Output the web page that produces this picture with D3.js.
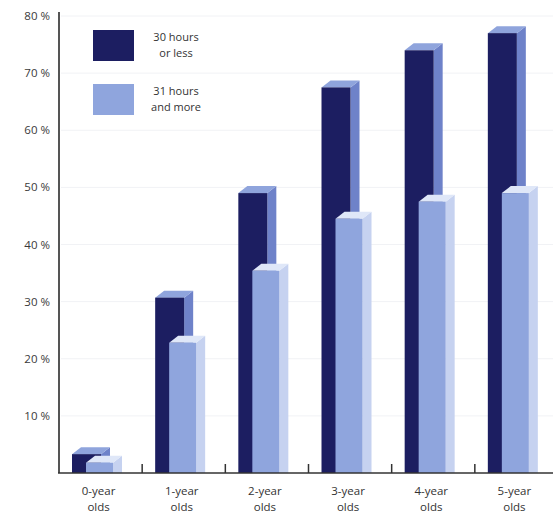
<!DOCTYPE html>
<html>
<head>
<meta charset="utf-8">
<script src="https://cdn.jsdelivr.net/npm/d3@7"></script>
<style>
  body { margin: 0; background: #fff; }
  text { font-family: "Open Sans", "Liberation Sans", sans-serif; }
</style>
</head>
<body>
<svg width="553" height="514"></svg>
<script>
var categories = ["0-year olds", "1-year olds", "2-year olds", "3-year olds", "4-year olds", "5-year olds"];
var shortHours = [3.3, 30.7, 49, 67.5, 74, 77];   // 30 hours or less
var longHours = [1.8, 22.8, 35.4, 44.5, 47.5, 49]; // 31 hours and more
var yTicks = [10, 20, 30, 40, 50, 60, 70, 80];

var svg = d3.select("svg"),
    plotLeft = 59, plotRight = 558, base = 473, plotTop = 16;

var x = d3.scaleBand()
    .domain(categories)
    .range([plotLeft, plotRight])
    .padding(0);

var y = d3.scaleLinear()
    .domain([0, 80])
    .range([base, plotTop]);

var dx = 9, dy = 7;

// faint grid
svg.append("g")
  .selectAll("line")
  .data(yTicks)
  .enter().append("line")
    .attr("x1", plotLeft + 2)
    .attr("x2", 553)
    .attr("y1", function(d) { return y(d); })
    .attr("y2", function(d) { return y(d); })
    .attr("stroke", "#f1f2f5")
    .attr("stroke-width", 1);

var series = [
  {values: shortHours, off: 13, w: 29, front: "#1c1e61", side: "#6e82c9", top: "#8fa4dc"},
  {values: longHours, off: 27, w: 27, front: "#8fa5dd", side: "#c6d2f0", top: "#dfe7f8"}
];

series.forEach(function(s) {
  var g = svg.append("g");
  s.values.forEach(function(v, i) {
    var x0 = x(categories[i]) + s.off,
        x1 = x0 + s.w,
        yt = y(v);
    g.append("polygon")
      .attr("points", [[x1, yt], [x1 + dx, yt - dy], [x1 + dx, base], [x1, base]].join(" "))
      .attr("fill", s.side);
    g.append("polygon")
      .attr("points", [[x0, yt], [x0 + dx, yt - dy], [x1 + dx, yt - dy], [x1, yt]].join(" "))
      .attr("fill", s.top);
    g.append("rect")
      .attr("x", x0)
      .attr("y", yt)
      .attr("width", s.w)
      .attr("height", base - yt)
      .attr("fill", s.front);
  });
});

// y axis
svg.append("line")
    .attr("x1", plotLeft).attr("x2", plotLeft)
    .attr("y1", 12).attr("y2", base)
    .attr("stroke", "#555")
    .attr("stroke-width", 2);

svg.append("g")
  .selectAll("text")
  .data(yTicks)
  .enter().append("text")
    .attr("x", 50)
    .attr("y", function(d) { return y(d); })
    .attr("dy", "0.35em")
    .attr("text-anchor", "end")
    .attr("font-size", 11.5)
    .attr("fill", "#3a3a3a")
    .text(function(d) { return d + " %"; });

// x axis
svg.append("line")
    .attr("x1", plotLeft - 1).attr("x2", 553)
    .attr("y1", base).attr("y2", base)
    .attr("stroke", "#333")
    .attr("stroke-width", 1.5);

svg.append("g")
  .selectAll("line")
  .data(categories.slice(1))
  .enter().append("line")
    .attr("x1", function(d) { return x(d); })
    .attr("x2", function(d) { return x(d); })
    .attr("y1", base - 9)
    .attr("y2", base)
    .attr("stroke", "#333")
    .attr("stroke-width", 1.5);

var labels = svg.append("g")
  .selectAll("text")
  .data(categories)
  .enter().append("text")
    .attr("x", function(d) { return x(d) + x.bandwidth() / 2 - 2; })
    .attr("y", 495)
    .attr("text-anchor", "middle")
    .attr("font-size", 11.5)
    .attr("fill", "#333");

labels.append("tspan")
    .text(function(d) { return d.split(" ")[0]; });
labels.append("tspan")
    .attr("x", function(d) { return x(d) + x.bandwidth() / 2 - 2; })
    .attr("dy", 16)
    .text(function(d) { return d.split(" ")[1]; });

// legend
var legend = svg.append("g")
  .selectAll("g")
  .data([
    {color: "#1c1e61", lines: ["30 hours", "or less"]},
    {color: "#8fa5dd", lines: ["31 hours", "and more"]}
  ])
  .enter().append("g")
    .attr("transform", function(d, i) { return "translate(93," + (30 + i * 54) + ")"; });

legend.append("rect")
    .attr("width", 41)
    .attr("height", 31)
    .attr("fill", function(d) { return d.color; });

legend.append("text")
    .attr("x", 83)
    .attr("y", 11)
    .attr("text-anchor", "middle")
    .attr("font-size", 11)
    .attr("fill", "#333")
    .selectAll("tspan")
    .data(function(d) { return d.lines; })
    .enter().append("tspan")
      .attr("x", 83)
      .attr("dy", function(d, i) { return i ? 16 : 0; })
      .text(function(d) { return d; });
</script>
</body>
</html>
